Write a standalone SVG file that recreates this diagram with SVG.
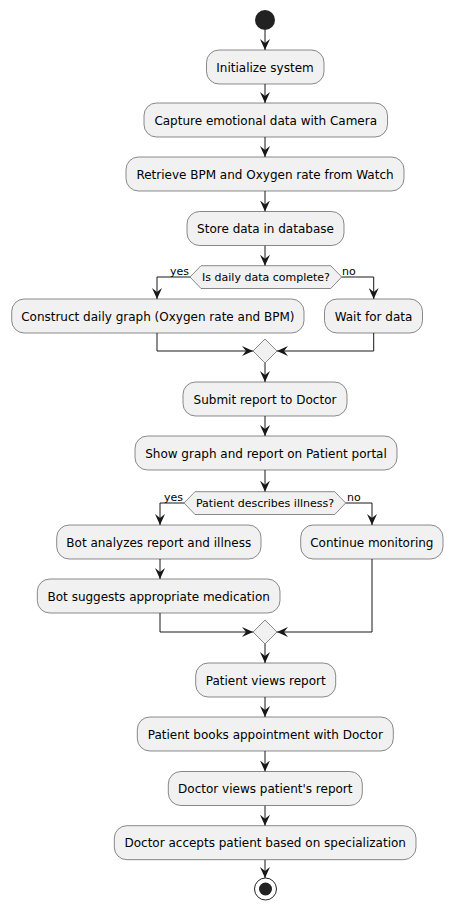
<svg xmlns="http://www.w3.org/2000/svg" width="453" height="911" viewBox="0 0 453 911">
<style>
.box{fill:#F1F1F1;stroke:#181818;stroke-width:0.5}
.t{font-family:"DejaVu Sans",sans-serif;font-size:12px;fill:#000;text-anchor:middle}
.s{font-family:"DejaVu Sans",sans-serif;font-size:11px;fill:#000}
.ln{fill:none;stroke:#181818;stroke-width:1}
</style>
<defs>
<marker id="ah" markerUnits="userSpaceOnUse" markerWidth="11" markerHeight="10" refX="11" refY="5" orient="auto" viewBox="0 0 11 10">
<path d="M0,0 L11,5 L0,10 L4,5 Z" fill="#181818"/>
</marker>
</defs>
<rect width="453" height="911" fill="#FFFFFF"/>
<g id="connectors">
<line class="ln" x1="265" y1="30" x2="265" y2="50" marker-end="url(#ah)"/>
<line class="ln" x1="265" y1="84" x2="265" y2="103" marker-end="url(#ah)"/>
<line class="ln" x1="265" y1="137" x2="265" y2="157" marker-end="url(#ah)"/>
<line class="ln" x1="265" y1="191" x2="265" y2="211.5" marker-end="url(#ah)"/>
<line class="ln" x1="265" y1="245.5" x2="265" y2="265.7" marker-end="url(#ah)"/>
<polyline class="ln" points="190,277 157,277 157,299" marker-end="url(#ah)"/>
<polyline class="ln" points="341.7,277 373.7,277 373.7,299" marker-end="url(#ah)"/>
<polyline class="ln" points="157,333 157,351 253,351" marker-end="url(#ah)"/>
<polyline class="ln" points="373.7,333 373.7,351 277,351" marker-end="url(#ah)"/>
<line class="ln" x1="265" y1="363" x2="265" y2="382" marker-end="url(#ah)"/>
<line class="ln" x1="265" y1="416" x2="265" y2="436" marker-end="url(#ah)"/>
<line class="ln" x1="265" y1="470" x2="265" y2="491.7" marker-end="url(#ah)"/>
<polyline class="ln" points="184,503 160,503 160,525" marker-end="url(#ah)"/>
<polyline class="ln" points="345.7,503 372,503 372,525" marker-end="url(#ah)"/>
<line class="ln" x1="160" y1="559" x2="160" y2="579" marker-end="url(#ah)"/>
<polyline class="ln" points="160,613 160,632 253,632" marker-end="url(#ah)"/>
<polyline class="ln" points="372,559 372,632 277,632" marker-end="url(#ah)"/>
<line class="ln" x1="265" y1="644" x2="265" y2="663" marker-end="url(#ah)"/>
<line class="ln" x1="265" y1="697" x2="265" y2="717" marker-end="url(#ah)"/>
<line class="ln" x1="265" y1="751" x2="265" y2="771.5" marker-end="url(#ah)"/>
<line class="ln" x1="265" y1="805.5" x2="265" y2="825.7" marker-end="url(#ah)"/>
<line class="ln" x1="265" y1="859.5" x2="265" y2="878" marker-end="url(#ah)"/>
<text class="s" x="189" y="275" text-anchor="end">yes</text>
<text class="s" x="342" y="275">no</text>
<text class="s" x="183" y="501" text-anchor="end">yes</text>
<text class="s" x="347" y="501">no</text>
</g>
<g id="start"><circle cx="265" cy="20" r="10" fill="#222222"/></g>
<g id="n1"><rect class="box" x="206.5" y="50" width="117.5" height="34" rx="12.5"/><text class="t" x="265" y="71.5">Initialize system</text></g>
<g id="n2"><rect class="box" x="144" y="103" width="243.5" height="34" rx="12.5"/><text class="t" x="265.7" y="124.5">Capture emotional data with Camera</text></g>
<g id="n3"><rect class="box" x="126" y="157" width="278" height="34" rx="12.5"/><text class="t" x="265" y="178.5">Retrieve BPM and Oxygen rate from Watch</text></g>
<g id="n4"><rect class="box" x="187" y="211.5" width="157" height="34" rx="12.5"/><text class="t" x="265.5" y="233">Store data in database</text></g>
<g id="d1"><polygon class="box" points="190,277 201,265.7 330.7,265.7 341.7,277 330.7,288.5 201,288.5"/><text class="s" x="266" y="281" text-anchor="middle">Is daily data complete?</text></g>
<g id="n5"><rect class="box" x="11.7" y="299" width="292.3" height="34" rx="12.5"/><text class="t" x="157.8" y="320.5">Construct daily graph (Oxygen rate and BPM)</text></g>
<g id="n6"><rect class="box" x="324.5" y="299" width="98" height="34" rx="12.5"/><text class="t" x="373.5" y="320.5">Wait for data</text></g>
<g id="m1"><polygon class="box" points="265,339 277,351 265,363 253,351"/></g>
<g id="n7"><rect class="box" x="183" y="382" width="164" height="34" rx="12.5"/><text class="t" x="265" y="403.5">Submit report to Doctor</text></g>
<g id="n8"><rect class="box" x="135" y="436" width="262" height="34" rx="12.5"/><text class="t" x="266" y="457.5">Show graph and report on Patient portal</text></g>
<g id="d2"><polygon class="box" points="184,503 195,491.7 334.7,491.7 345.7,503 334.7,514.5 195,514.5"/><text class="s" x="265" y="507" text-anchor="middle">Patient describes illness?</text></g>
<g id="n9"><rect class="box" x="56.7" y="525" width="204.3" height="34" rx="12.5"/><text class="t" x="158.8" y="546.5">Bot analyzes report and illness</text></g>
<g id="n10"><rect class="box" x="300.7" y="525" width="142.3" height="34" rx="12.5"/><text class="t" x="371.8" y="546.5">Continue monitoring</text></g>
<g id="n11"><rect class="box" x="37.3" y="579" width="242.7" height="34" rx="12.5"/><text class="t" x="158.7" y="600.5">Bot suggests appropriate medication</text></g>
<g id="m2"><polygon class="box" points="265,620 277,632 265,644 253,632"/></g>
<g id="n12"><rect class="box" x="195.7" y="663" width="140" height="34" rx="12.5"/><text class="t" x="265.7" y="684.5">Patient views report</text></g>
<g id="n13"><rect class="box" x="137.3" y="717" width="256" height="34" rx="12.5"/><text class="t" x="265.3" y="738.5">Patient books appointment with Doctor</text></g>
<g id="n14"><rect class="box" x="168.3" y="771.5" width="194" height="34" rx="12.5"/><text class="t" x="265.3" y="793">Doctor views patient's report</text></g>
<g id="n15"><rect class="box" x="114.3" y="825.7" width="301.7" height="34" rx="12.5"/><text class="t" x="265.2" y="847.2">Doctor accepts patient based on specialization</text></g>
<g id="end"><circle cx="265.5" cy="889" r="11" fill="none" stroke="#222222" stroke-width="1"/><circle cx="265.5" cy="889" r="6.5" fill="#222222"/></g>
</svg>
